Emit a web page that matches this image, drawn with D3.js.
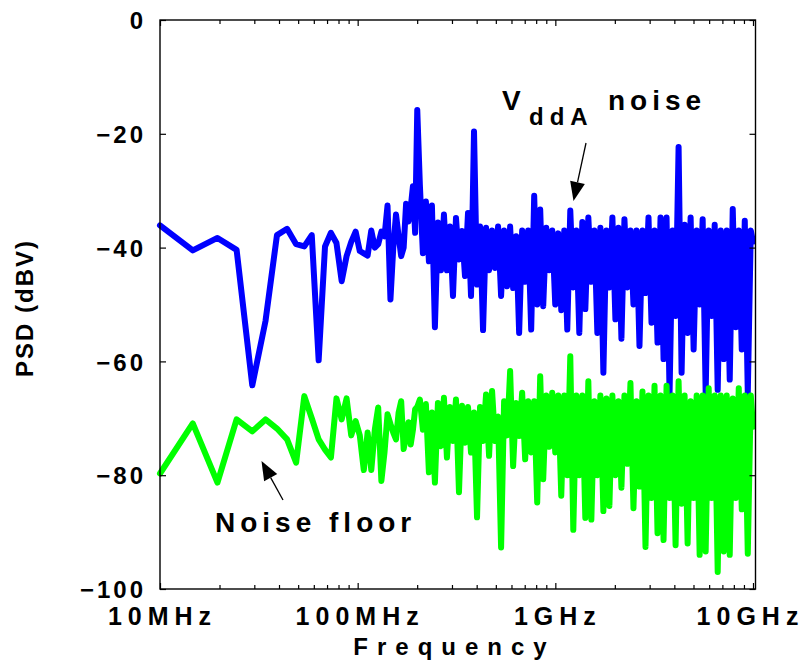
<!DOCTYPE html>
<html><head><meta charset="utf-8">
<script src="https://cdn.jsdelivr.net/npm/d3@7"></script>
<style>body{margin:0;background:#fff}svg{display:block}</style>
</head><body>
<svg id="chart" width="808" height="667"></svg>
<script>
// Frequency grid (MHz)
const freqMHz = [10, 14.65, 19.53, 24.41, 29.3, 34.18, 39.06, 43.95, 48.83, 53.71,
 58.59, 63.48, 68.36, 73.24, 78.13, 83.01, 87.89, 92.77, 97.66, 102.5,
 107.4, 112.3, 117.2, 122.1, 127.0, 131.8, 136.7, 141.6, 146.5, 151.4,
 156.3, 161.1, 166.0, 170.9, 175.8, 180.7, 185.5, 190.4, 195.3, 200.2,
 206.4, 213.8, 221.4, 229.3, 237.5, 245.9, 254.7, 263.8, 273.2, 282.9,
 293.0, 303.5, 314.3, 325.5, 337.1, 349.1, 361.6, 374.5, 387.8, 401.7,
 416.0, 430.8, 446.2, 462.1, 478.6, 495.7, 513.3, 531.6, 550.6, 570.3,
 590.6, 611.6, 633.4, 656.0, 679.4, 703.7, 728.8, 754.8, 781.7, 809.6,
 838.4, 868.3, 899.3, 931.4, 964.6, 999.0, 1034.6, 1071.5, 1109.7, 1149.3,
 1190.3, 1232.7, 1276.7, 1322.2, 1369.4, 1418.2, 1468.8, 1521.2, 1575.4, 1631.6,
 1689.8, 1750.1, 1812.5, 1877.1, 1944.1, 2013.4, 2085.2, 2159.6, 2236.6, 2316.4,
 2399.0, 2484.6, 2573.2, 2665.0, 2760.0, 2858.5, 2960.4, 3066.0, 3175.4, 3288.6,
 3405.9, 3527.4, 3653.2, 3783.5, 3918.5, 4058.2, 4203.0, 4352.9, 4508.1, 4668.9,
 4835.4, 5007.9, 5186.5, 5371.5, 5563.1, 5761.5, 5967.0, 6179.8, 6400.2, 6628.5,
 6864.9, 7109.8, 7363.4, 7626.0, 7898.0, 8179.7, 8471.4, 8773.6, 9086.5, 9410.6,
 9746.3, 10000];

// VddA noise PSD (dBV)
const vddaNoise = [-36.1, -40.5, -38.3, -40.4, -64.2, -52.9, -37.8, -36.7, -39.4, -39.8,
 -37.8, -59.8, -39.8, -37.4, -39.2, -45.9, -41.5, -39, -37.2, -40.6,
 -41, -41.4, -37, -40, -39.4, -37.2, -38, -32.6, -49.1, -40,
 -34.2, -38, -41.5, -40, -32.3, -35.4, -33, -29.2, -37.4, -15.8,
 -29, -41, -31.9, -42.4, -32.6, -54, -35.6, -44, -34.2, -44,
 -36.3, -48.5, -34.8, -42.1, -37.1, -45, -33.9, -48.5, -19.6, -46.5,
 -36.3, -54.5, -36.5, -44, -37, -43.6, -36.3, -48.5, -37, -46.8,
 -36.3, -47.1, -38, -55, -37, -46, -37, -54.4, -30.9, -50,
 -33.3, -50.3, -36.5, -44, -37, -50, -37.5, -51, -37, -54.4,
 -33.5, -47, -37, -55, -35.5, -50.8, -34.7, -46, -37, -55,
 -36.5, -62, -37, -47, -34.7, -52.6, -36.5, -56, -35, -47,
 -37, -50, -37, -57.3, -37, -48, -34.7, -53.2, -37, -56.7,
 -34.7, -59.6, -34.7, -65.6, -37, -52, -22.3, -62, -36, -55,
 -34.7, -57.9, -37, -50, -35, -65.6, -37, -52, -36, -65,
 -37, -59.6, -37, -63.2, -33.2, -54, -37, -57.9, -35.3, -65.6,
 -37, -39];

// Noise floor PSD (dBV)
const noiseFloor = [-79.7, -70.9, -81.3, -70.2, -72.3, -70.2, -71.8, -73.7, -77.8, -66.1,
 -70, -73.7, -75.5, -76.9, -66.5, -70.2, -66.5, -73, -70.5, -73,
 -79.1, -72.5, -79.1, -72, -68.1, -81, -76, -69.3, -71, -72.5,
 -73.7, -69, -67, -75.4, -73, -70.7, -74.6, -72, -68.4, -68,
 -66.7, -72, -67.5, -79.5, -69, -81.3, -67.3, -74.9, -66.4, -76.9,
 -68, -74, -66.7, -83, -67.8, -74.3, -68, -76, -69, -87.4,
 -68, -74, -65.8, -76.6, -65.2, -74, -69.7, -92.7, -67, -73,
 -61.7, -78.4, -67.3, -73.1, -65.5, -77.2, -67, -76, -67, -84.8,
 -62.6, -80.7, -66, -75, -65.5, -76, -66, -83.6, -66, -80,
 -59.1, -89.6, -66, -80, -66, -87.5, -63.5, -87.8, -67, -80,
 -66, -86.3, -66.5, -85.4, -66, -80, -67, -82.2, -66, -78,
 -63.8, -85.8, -67, -82, -65.3, -92.6, -66, -84, -64.3, -90.2,
 -66, -91.4, -64.3, -84, -66, -92.3, -63.5, -85, -66, -92,
 -67, -84, -66, -94, -66, -93.4, -64.7, -84, -66, -97,
 -66, -93.4, -66, -94, -66.5, -84, -64.7, -86, -66, -93.8,
 -66, -71.5];

const xMajorTicks = [10, 100, 1000, 10000];
const xMajorLabels = ["10MHz", "100MHz", "1GHz", "10GHz"];
const xMinorTicks = [20,30,40,50,60,70,80,90,200,300,400,500,600,700,800,900,
                     2000,3000,4000,5000,6000,7000,8000,9000];
const yTicks = [0, -20, -40, -60, -80, -100];

const FONT = "'Liberation Sans', Arial, Helvetica, sans-serif";
const svg = d3.select("#chart");
const L = 160, R = 755.5, T = 20, B = 589;
const x = d3.scaleLog().domain([10, 10000]).range([160, 753]);
const y = d3.scaleLinear().domain([-100, 0]).range([B, T]);

const series = [
  {name: "vdda", color: "#0000ff", vals: vddaNoise},
  {name: "floor", color: "#00ff00", vals: noiseFloor}
];
const line = d3.line().x(d => x(d.f)).y(d => y(d.v));
series.forEach(s => {
  const pts = freqMHz.map((f, i) => ({f, v: s.vals[i]}));
  svg.append("path").datum(pts)
    .attr("d", line)
    .attr("fill", "none")
    .attr("stroke", s.color)
    .attr("stroke-width", 6)
    .attr("stroke-linejoin", "round")
    .attr("stroke-linecap", "round");
});

// frame
svg.append("rect").attr("x", L).attr("y", T).attr("width", R - L).attr("height", B - T)
  .attr("fill", "none").attr("stroke", "#000").attr("stroke-width", 1.4);

function clean(g) { g.select(".domain").remove(); g.selectAll("line").attr("stroke-width", 1.2); }

// bottom axis
svg.append("g").attr("transform", `translate(0,${B})`)
  .call(d3.axisBottom(x).tickValues(xMinorTicks).tickSize(-4).tickFormat(""))
  .call(clean);
const bx = svg.append("g").attr("transform", `translate(0,${B})`)
  .call(d3.axisBottom(x).tickValues(xMajorTicks).tickSize(-6).tickPadding(18)
        .tickFormat((d, i) => xMajorLabels[i]))
  .call(clean);
bx.selectAll("text").attr("font-family", FONT).attr("font-weight", "bold")
  .attr("font-size", 25).attr("fill", "#000").style("letter-spacing", "6px")
  .attr("dx", (d, i) => i === 3 ? -3 : 2);

// top axis
svg.append("g").attr("transform", `translate(0,${T})`)
  .call(d3.axisTop(x).tickValues(xMinorTicks).tickSize(-4).tickFormat("")).call(clean);
svg.append("g").attr("transform", `translate(0,${T})`)
  .call(d3.axisTop(x).tickValues(xMajorTicks).tickSize(-6).tickFormat("")).call(clean);

// left axis
const ly = svg.append("g").attr("transform", `translate(${L},0)`)
  .call(d3.axisLeft(y).tickValues(yTicks).tickSize(-6).tickPadding(14).tickFormat(d3.format("d")))
  .call(clean);
ly.selectAll("text").attr("font-family", FONT).attr("font-weight", "bold")
  .attr("font-size", 24).attr("fill", "#000").style("letter-spacing", "3px").attr("dy", "0.36em");

// right axis
svg.append("g").attr("transform", `translate(${R},0)`)
  .call(d3.axisRight(y).tickValues(yTicks).tickSize(-6).tickFormat("")).call(clean);

// axis titles
svg.append("text").attr("x", 450).attr("y", 655).attr("text-anchor", "middle")
  .attr("font-family", FONT).attr("font-weight", "bold").attr("font-size", 24)
  .style("letter-spacing", "9px").attr("dx", 4.5).text("Frequency");
svg.append("text").attr("transform", "translate(33,308) rotate(-90)").attr("text-anchor", "middle")
  .attr("font-family", FONT).attr("font-weight", "bold").attr("font-size", 24)
  .style("letter-spacing", "2px").text("PSD (dBV)");

// annotations
const ann = svg.append("g").attr("font-family", FONT).attr("font-weight", "bold").attr("fill", "#000");
ann.append("text").attr("x", 502).attr("y", 110).attr("font-size", 28).text("V");
ann.append("text").attr("x", 529).attr("y", 125).attr("font-size", 24).style("letter-spacing", "6px").text("ddA");
ann.append("text").attr("x", 608).attr("y", 110).attr("font-size", 28).style("letter-spacing", "5px").text("noise");
ann.append("text").attr("x", 215).attr("y", 532).attr("font-size", 28).style("letter-spacing", "5px").text("Noise floor");

function arrow(x0, y0, x1, y1) {
  const dx = x1 - x0, dy = y1 - y0, len = Math.hypot(dx, dy);
  const ux = dx / len, uy = dy / len, hl = 19, hw = 7.5;
  const bxp = x1 - hl * ux, byp = y1 - hl * uy;
  svg.append("line").attr("x1", x0).attr("y1", y0).attr("x2", bxp).attr("y2", byp)
    .attr("stroke", "#000").attr("stroke-width", 1.3);
  svg.append("polygon").attr("points", [
    [x1, y1], [bxp - hw * uy, byp + hw * ux], [bxp + hw * uy, byp - hw * ux]
  ].map(p => p.join(",")).join(" ")).attr("fill", "#000");
}
arrow(586, 143, 573.5, 201);
arrow(283, 500, 261.5, 461);
</script>
</body></html>
